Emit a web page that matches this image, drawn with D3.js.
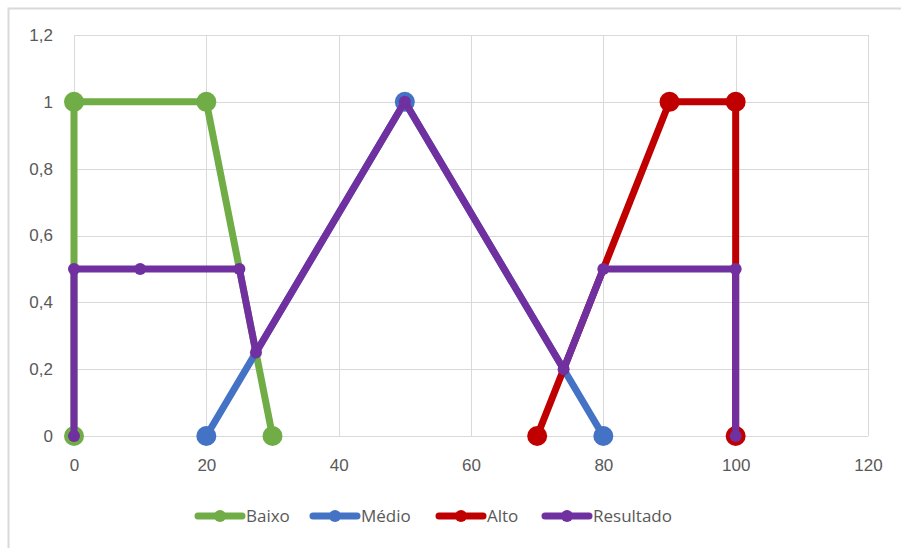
<!DOCTYPE html>
<html>
<head>
<meta charset="utf-8">
<script src="https://cdn.jsdelivr.net/npm/d3@7"></script>
<style>
  body { margin: 0; background: #fff; }
  svg { display: block; font-family: "Open Sans", "Noto Sans", sans-serif; }
</style>
</head>
<body>
<svg id="chart" width="901" height="548"></svg>
<script>
// series data
const baixo = [[0, 0], [0, 1], [20, 1], [30, 0]];
const medio = [[20, 0], [50, 1], [80, 0]];
const alto = [[70, 0], [90, 1], [100, 1], [100, 0]];
const resultado = [[0, 0], [0, 0.5], [10, 0.5], [25, 0.5], [27.5, 0.25], [50, 1], [74, 0.2], [80, 0.5], [100, 0.5], [100, 0]];

const seriesNames = ["Baixo", "Médio", "Alto", "Resultado"];
const xTicks = [0, 20, 40, 60, 80, 100, 120];
const yTicks = [0, 0.2, 0.4, 0.6, 0.8, 1, 1.2];

const series = [
    { name: seriesNames[0], data: baixo, color: "#70ad47", r: 10 },
    { name: seriesNames[1], data: medio, color: "#4472c4", r: 10 },
    { name: seriesNames[2], data: alto, color: "#c00000", r: 10 },
    { name: seriesNames[3], data: resultado, color: "#7030a0", r: 6 }
];

const svg = d3.select("#chart");

// chart frame (only top and left edges show)
svg.append("rect")
    .attr("x", 8.5).attr("y", 8.5)
    .attr("width", 920).attr("height", 560)
    .attr("fill", "none")
    .attr("stroke", "#d9d9d9")
    .attr("stroke-width", 2);

const x = d3.scaleLinear().domain([0, 120]).range([74, 868]);
const y = d3.scaleLinear().domain([0, 1.2]).range([436, 35]);
const fmt = d => String(d).replace(".", ",");

// gridlines
const grid = svg.append("g");
grid.selectAll("line.h")
    .data(yTicks)
    .enter()
    .append("line")
    .attr("x1", x(0)).attr("x2", x(120))
    .attr("y1", d => Math.round(y(d)) + 0.5)
    .attr("y2", d => Math.round(y(d)) + 0.5)
    .attr("stroke", "#d9d9d9");
grid.selectAll("line.v")
    .data(xTicks)
    .enter()
    .append("line")
    .attr("y1", y(0)).attr("y2", y(1.2))
    .attr("x1", d => Math.round(x(d)) + 0.5)
    .attr("x2", d => Math.round(x(d)) + 0.5)
    .attr("stroke", "#d9d9d9");

// axes
const xAxis = svg.append("g")
    .attr("transform", `translate(0,${y(0) + 20})`)
    .call(d3.axisBottom(x).tickValues(xTicks).tickFormat(fmt).tickSize(0));
const yAxis = svg.append("g")
    .attr("transform", `translate(${x(0) - 18},0)`)
    .call(d3.axisLeft(y).tickValues(yTicks).tickFormat(fmt).tickSize(0));
[xAxis, yAxis].forEach(a => {
    a.select(".domain").remove();
    a.selectAll("text")
        .attr("fill", "#595959")
        .style("font-size", "17px");
});

// lines and markers
const line = d3.line().x(d => x(d[0])).y(d => y(d[1]));
series.forEach(s => {
    const g = svg.append("g");
    g.append("path")
        .datum(s.data)
        .attr("d", line)
        .attr("fill", "none")
        .attr("stroke", s.color)
        .attr("stroke-width", 7)
        .attr("stroke-linejoin", "round")
        .attr("stroke-linecap", "round");
    g.selectAll("circle")
        .data(s.data)
        .enter()
        .append("circle")
        .attr("cx", d => x(d[0]))
        .attr("cy", d => y(d[1]))
        .attr("r", s.r)
        .attr("fill", s.color);
});

// legend
const legendX = [196, 311, 437, 543];
const legend = svg.append("g")
    .attr("transform", "translate(0,516)");
const item = legend.selectAll("g")
    .data(series)
    .enter()
    .append("g")
    .attr("transform", (d, i) => `translate(${legendX[i]},0)`);
item.append("line")
    .attr("x1", 2).attr("x2", 46)
    .attr("stroke", d => d.color)
    .attr("stroke-width", 7)
    .attr("stroke-linecap", "round");
item.append("circle")
    .attr("cx", 24).attr("r", 6)
    .attr("fill", d => d.color);
item.append("text")
    .attr("x", 50)
    .attr("dy", "0.35em")
    .attr("fill", "#595959")
    .style("font-size", "17px")
    .text(d => d.name);
</script>
</body>
</html>
